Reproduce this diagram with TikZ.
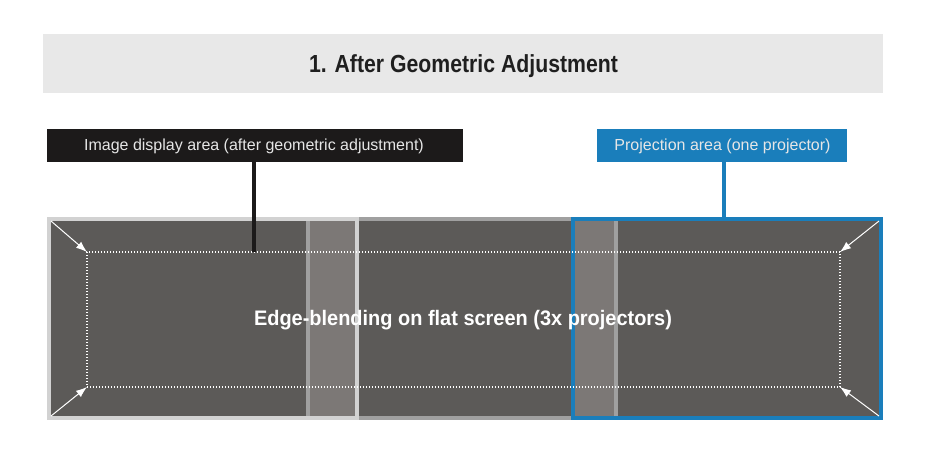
\documentclass[tikz,border=0pt]{standalone}
\usepackage{fontspec}
\setmainfont{Liberation Sans}
\newfontfamily\titlefont[FakeStretch=0.86]{Liberation Sans Bold}
\newfontfamily\capfont[FakeStretch=0.95]{Liberation Sans Bold}
\usetikzlibrary{arrows.meta}
\definecolor{titlebg}{HTML}{E8E8E8}
\definecolor{scrfill}{HTML}{5C5A58}
\definecolor{blendfill}{HTML}{7C7876}
\definecolor{leftedge}{HTML}{D2D2D2}
\definecolor{midedge}{HTML}{A0A0A0}
\definecolor{projblue}{HTML}{1A7EBB}
\definecolor{labblack}{HTML}{1C1A1A}
\definecolor{labtext}{HTML}{E6E6E6}
\tikzset{
  px/.style={inner sep=0pt, outer sep=0pt},
  labelbox/.style={px, minimum height=33pt},
  labeltext/.style={px, anchor=base, text=labtext, font=\fontsize{16}{18}\selectfont},
  projbox/.style={px, line width=4pt},
  leader/.style={line width=4.3pt},
  corner/.style={white, line width=1pt, -{Latex[length=11pt,width=8pt]}},
  blendzone/.style={px, fill=blendfill},
}
\begin{document}
\begin{tikzpicture}[x=1pt,y=-1pt]
\useasboundingbox (0,0) rectangle (926,467);
% title
\node[px, fill=titlebg, minimum width=840pt, minimum height=59pt] (titlebar) at (463,63.5) {};
\node[px, anchor=base, font=\titlefont\fontsize{24.7}{26}\selectfont, text=black!88] (title) at (463.5,72.7) {1. After Geometric Adjustment};
% screen base
\fill[scrfill] (49,219) rectangle (881,418);
\node[blendzone, minimum width=48.5pt, minimum height=199pt] (blendL) at (332.25,318.5) {};
\node[blendzone, minimum width=43pt, minimum height=199pt] (blendR) at (594.5,318.5) {};
% projector areas
\node[projbox, draw=midedge, minimum width=308pt, minimum height=199pt] (projM) at (462,318.5) {};
\node[projbox, draw=leftedge, minimum width=307.5pt, minimum height=199pt] (projL) at (202.75,318.5) {};
\node[projbox, draw=projblue, minimum width=308pt, minimum height=199pt] (projR) at (727,318.5) {};
% image display area (dotted)
\node[px, draw=white, line width=1.2pt, dash pattern=on 1.2pt off 1.8pt, minimum width=753pt, minimum height=135pt] (disp) at (463.5,319.5) {};
% corner arrows
\draw[corner] ([shift={(2,2)}]projL.north west) -- (disp.north west);
\draw[corner] ([shift={(2,-2)}]projL.south west) -- (disp.south west);
\draw[corner] ([shift={(-2,2)}]projR.north east) -- (disp.north east);
\draw[corner] ([shift={(-2,-2)}]projR.south east) -- (disp.south east);
% caption
\node[px, anchor=base, text=white, font=\capfont\fontsize{21}{23}\selectfont] (cap) at (463,325) {Edge-blending on flat screen (3x projectors)};
% labels
\node[labelbox, fill=labblack, minimum width=416pt] (labL) at (255,145.5) {};
\node[labeltext] (labLt) at (254,150.3) {Image display area (after geometric adjustment)};
\node[labelbox, fill=projblue, minimum width=250pt] (labR) at (722,145.5) {};
\node[labeltext] (labRt) at (722.5,150.3) {Projection area (one projector)};
\coordinate (dL) at (254,252);
\coordinate (dR) at (724,217);
\draw[leader, draw=labblack] (labL.south -| dL) -- (dL);
\draw[leader, draw=projblue] (labR.south -| dR) -- (dR);
\end{tikzpicture}
\end{document}
